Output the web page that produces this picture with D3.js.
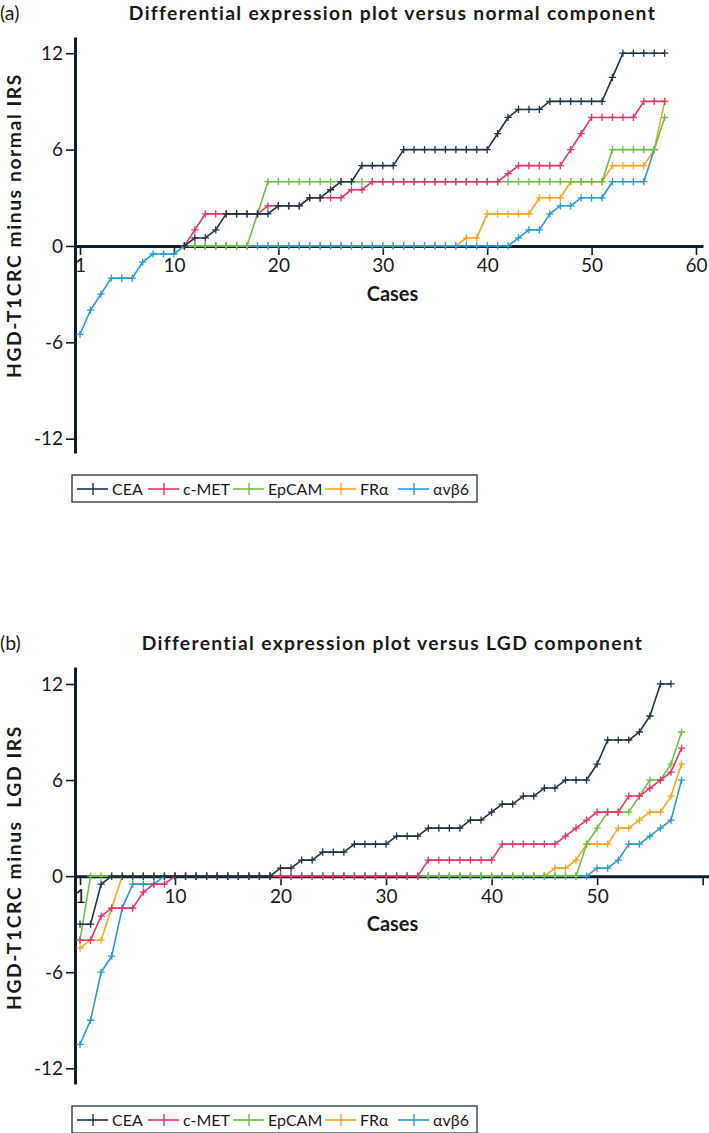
<!DOCTYPE html>
<html><head><meta charset="utf-8">
<script src="https://cdn.jsdelivr.net/npm/d3@7"></script>
<style>
body{margin:0;background:#fff}
svg{display:block}
text{font-family:Lato,"Noto Sans",sans-serif;fill:#1a1a1a}
</style>
</head><body>
<svg id="c" width="709" height="1133"></svg>
<script>
// ---------------- DATA ----------------
const seriesNames  = ["CEA", "c-MET", "EpCAM", "FRα", "αvβ6"];
const seriesColors = ["#1f3547", "#e8336d", "#70be45", "#f8a51f", "#2a9ad6"];
const drawOrder    = [3, 4, 2, 1, 0];            // bottom -> top
const xTicks = [1, 10, 20, 30, 40, 50, 60];
const yTicks = [12, 6, 0, -6, -12];
const N = null;

// Panel (a): HGD-T1CRC minus normal IRS, cases 1..57 (null = no point)
const aCEA = [N,N,N,N,N,N,N,N,N,N,
  0,0.5,0.5,1,2,2,2,2,2,2.5,
  2.5,2.5,3,3,3.5,4,4,5,5,5,
  5,6,6,6,6,6,6,6,6,6,
  7,8,8.5,8.5,8.5,9,9,9,9,9,
  9,10.5,12,12,12,12,12];
const aCMET = [N,N,N,N,N,N,N,N,N,N,
  0,1,2,2,2,2,2,2,2.5,2.5,
  2.5,2.5,3,3,3,3,3.5,3.5,4,4,
  4,4,4,4,4,4,4,4,4,4,
  4,4.5,5,5,5,5,5,6,7,8,
  8,8,8,8,9,9,9];
const aEpCAM = [N,N,N,N,N,N,N,N,N,N,
  0,0,0,0,0,0,0,2,4,4,
  4,4,4,4,4,4,4,4,4,4,
  4,4,4,4,4,4,4,4,4,4,
  4,4,4,4,4,4,4,4,4,4,
  4,6,6,6,6,6,8];
const aFRa = [N,N,N,N,N,N,N,N,N,N,
  0,0,0,0,0,0,0,0,0,0,
  0,0,0,0,0,0,0,0,0,0,
  0,0,0,0,0,0,0,0.5,0.5,2,
  2,2,2,2,3,3,3,4,4,4,
  4,5,5,5,5,6,9];
const aAvb6 = [-5.5,-4,-3,-2,-2,-2,-1,-0.5,-0.5,-0.5,
  0,0,0,0,0,0,0,0,0,0,
  0,0,0,0,0,0,0,0,0,0,
  0,0,0,0,0,0,0,0,0,0,
  0,0,0.5,1,1,2,2.5,2.5,3,3,
  3,4,4,4,4,6,N];

// Panel (b): HGD-T1CRC minus LGD IRS, cases 1..58
const bCEA = [-3,-3,-0.5,0,0,0,0,0,0,0,
  0,0,0,0,0,0,0,0,0,0.5,
  0.5,1,1,1.5,1.5,1.5,2,2,2,2,
  2.5,2.5,2.5,3,3,3,3,3.5,3.5,4,
  4.5,4.5,5,5,5.5,5.5,6,6,6,7,
  8.5,8.5,8.5,9,10,12,12,N];
const bCMET = [-4,-4,-2.5,-2,-2,-2,-1,-0.5,-0.5,0,
  0,0,0,0,0,0,0,0,0,0,
  0,0,0,0,0,0,0,0,0,0,
  0,0,0,1,1,1,1,1,1,1,
  2,2,2,2,2,2,2.5,3,3.5,4,
  4,4,5,5,5.5,6,6.5,8];
const bEpCAM = [-4,0,0,0,0,0,0,0,0,0,
  0,0,0,0,0,0,0,0,0,0,
  0,0,0,0,0,0,0,0,0,0,
  0,0,0,0,0,0,0,0,0,0,
  0,0,0,0,0,0,0,0,2,3,
  4,4,4,5,6,6,7,9];
const bFRa = [-4.5,-4,-4,-2,0,0,0,0,0,0,
  0,0,0,0,0,0,0,0,0,0,
  0,0,0,0,0,0,0,0,0,0,
  0,0,0,0,0,0,0,0,0,0,
  0,0,0,0,0,0.5,0.5,1,2,2,
  2,3,3,3.5,4,4,5,7];
const bAvb6 = [-10.5,-9,-6,-5,-2,-0.5,-0.5,-0.5,0,0,
  0,0,0,0,0,0,0,0,0,0,
  0,0,0,0,0,0,0,0,0,0,
  0,0,0,0,0,0,0,0,0,0,
  0,0,0,0,0,0,0,0,0,0.5,
  0.5,1,2,2,2.5,3,3.5,6];

// ---------------- LAYOUT ----------------
const panels = [
  { tag: "(a)", title: "Differential expression plot versus normal component",
    yLabel: "HGD-T1CRC minus normal IRS",
    series: [aCEA, aCMET, aEpCAM, aFRa, aAvb6],
    xDom: [0.52, 60.67], xRange: [75, 703],
    yDom: [-12.89, 13.01], yRange: [453, 37],
    titleY: 20, yLabelY: 378, casesY: 301, showLast: true,
    legTop: 475 },
  { tag: "(b)", title: "Differential expression plot versus LGD component",
    yLabel: "HGD-T1CRC minus  LGD IRS",
    series: [bCEA, bCMET, bEpCAM, bFRa, bAvb6],
    xDom: [0.526, 60.6], xRange: [75, 709],
    yDom: [-12.98, 13.06], yRange: [1084, 667],
    titleY: 650, yLabelY: 1010, casesY: 931, showLast: false,
    legTop: 1106 }
];

const svg = d3.select("#c");
const axisColor = "#0e1d2a";

// set a fixed font size and adjust letter-spacing slightly to reach a target width
function fitSpacing(sel, target, size) {
  sel.style("font-size", size + "px").style("letter-spacing", "0px");
  const w = sel.node().getComputedTextLength();
  const n = sel.text().length;
  const ls = (target - w) / n;
  sel.style("letter-spacing", ls + "px");
  return ls;
}

let titleLS = null, labLS = null;
const titleSize = 19.3, labSize = 19.3;

panels.forEach((p, pi) => {
  const g = svg.append("g");
  const x = d3.scaleLinear().domain(p.xDom).range(p.xRange);
  const y = d3.scaleLinear().domain(p.yDom).range(p.yRange);

  // x axis through zero
  const xa = g.append("g").attr("transform", `translate(0,${y(0)})`)
    .call(d3.axisBottom(x).tickValues(xTicks).tickSize(9).tickSizeOuter(0).tickPadding(4)
      .tickFormat(d => (d === 60 && !p.showLast) ? "" : String(d)));
  xa.select(".domain").attr("stroke", axisColor).attr("stroke-width", 3);
  xa.selectAll(".tick line").attr("stroke", axisColor).attr("stroke-width", 1.6);
  xa.selectAll(".tick text").attr("fill", "#1a1a1a").style("font-size", "19px")
    .style("font-family", "Lato, sans-serif");

  // y axis
  const ya = g.append("g").attr("transform", `translate(${p.xRange[0]},0)`)
    .call(d3.axisLeft(y).tickValues(yTicks).tickSize(9).tickSizeOuter(0).tickPadding(3)
      .tickFormat(d => String(d)));
  ya.select(".domain").attr("stroke", axisColor).attr("stroke-width", 3);
  ya.selectAll(".tick line").attr("stroke", axisColor).attr("stroke-width", 1.6);
  ya.selectAll(".tick text").attr("fill", "#1a1a1a").style("font-size", "19px")
    .style("font-family", "Lato, sans-serif");

  // series
  const line = d3.line().defined(d => d.v !== null).x(d => x(d.i)).y(d => y(d.v));
  drawOrder.forEach(si => {
    const pts = p.series[si].map((v, k) => ({ i: k + 1, v: v }));
    const col = seriesColors[si];
    g.append("path").datum(pts).attr("d", line)
      .attr("fill", "none").attr("stroke", col).attr("stroke-width", 1.6)
      .attr("stroke-linejoin", "round");
    g.append("g").selectAll("path").data(pts.filter(d => d.v !== null)).join("path")
      .attr("transform", d => `translate(${x(d.i)},${y(d.v)})`)
      .attr("d", "M-3.6,0H3.6M0,-3.6V3.6")
      .attr("stroke", col).attr("stroke-width", 1.3).attr("fill", "none");
  });

  // titles
  const t = g.append("text").attr("x", 392.5).attr("y", p.titleY)
    .attr("text-anchor", "middle").style("font-weight", "bold").text(p.title);
  if (titleLS === null) titleLS = fitSpacing(t, 527, titleSize);
  else t.style("font-size", titleSize + "px").style("letter-spacing", titleLS + "px");
  g.append("text").attr("x", 0).attr("y", p.titleY).style("font-size", "19.5px").text(p.tag);

  const yl = g.append("text").attr("transform", `translate(20.5,${p.yLabelY}) rotate(-90)`)
    .attr("text-anchor", "start").style("font-weight", "bold")
    .style("white-space", "pre").text(p.yLabel);
  if (labLS === null) labLS = fitSpacing(yl, 305, labSize);
  else yl.style("font-size", labSize + "px").style("letter-spacing", labLS + "px");

  g.append("text").attr("x", 392.5).attr("y", p.casesY).attr("text-anchor", "middle")
    .style("font-weight", "bold").style("font-size", "20px").text("Cases");

  // legend
  const lg = g.append("g");
  lg.append("rect").attr("x", 72).attr("y", p.legTop).attr("width", 405).attr("height", 27)
    .attr("fill", "#fff").attr("stroke", "#3e4c57").attr("stroke-width", 1.5);
  const itemX = [77, 148, 233, 325, 398];
  seriesNames.forEach((nm, si) => {
    const lx = itemX[si], ly = p.legTop + 14;
    lg.append("line").attr("x1", lx).attr("x2", lx + 31).attr("y1", ly).attr("y2", ly)
      .attr("stroke", seriesColors[si]).attr("stroke-width", 1.6);
    lg.append("path").attr("transform", `translate(${lx + 16},${ly})`)
      .attr("d", "M0,-6V6").attr("stroke", seriesColors[si]).attr("stroke-width", 1.4);
    lg.append("text").attr("x", lx + 35).attr("y", p.legTop + 20)
      .style("font-size", "16px").text(nm);
  });
});
</script>
</body></html>
